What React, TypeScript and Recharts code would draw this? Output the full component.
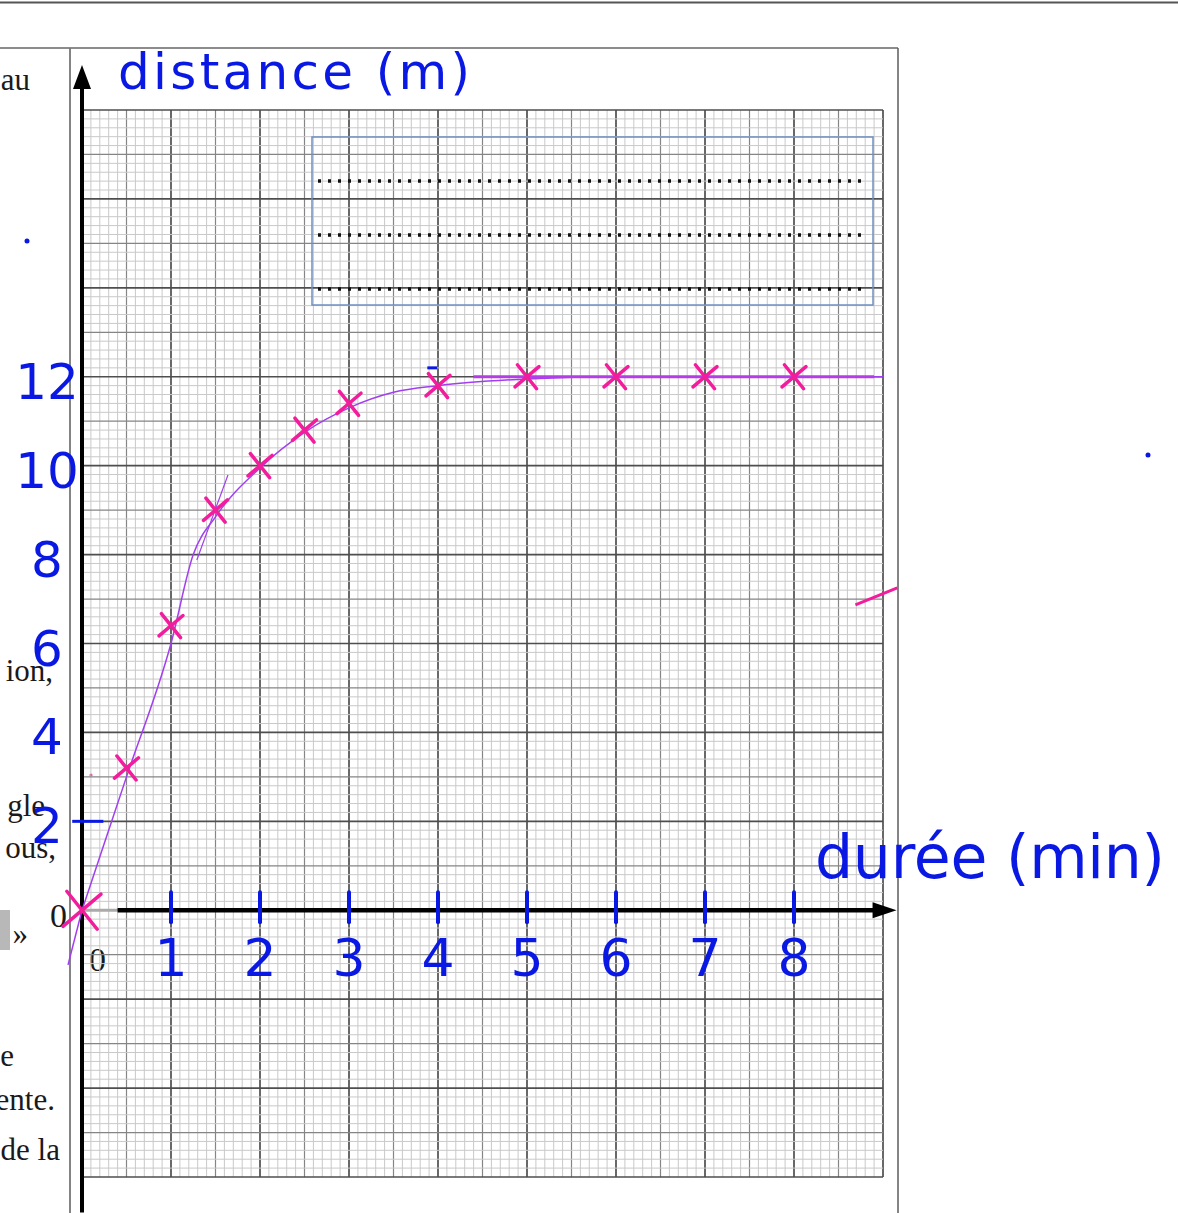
import React from 'react';
import { ComposedChart, XAxis, YAxis, Line, Scatter, ReferenceLine, ReferenceDot } from 'recharts';

// measured points (time in min, distance in m)
const timeMin = [0, 0.5, 1, 1.5, 2, 2.5, 3, 4, 5, 6, 7, 8];
const distanceM = [0, 3.2, 6.4, 9.0, 10.0, 10.8, 11.4, 11.8, 12.0, 12.0, 12.0, 12.0];

// hand-drawn fitted curve
const curveTime = [0, 0.5, 1, 1.25, 1.5, 2, 2.5, 3, 3.5, 4, 5, 6, 9];
const curveDist = [0, 3.0, 6.0, 8.0, 8.85, 9.95, 10.75, 11.3, 11.65, 11.8, 11.95, 12, 12];

// thick plateau stroke
const plateauTime = [4.4, 8.9];
const plateauDist = [12, 12];

// handwritten tick labels
const xTickValues = [1, 2, 3, 4, 5, 6, 7, 8];
const xTickLabels = ['1', '2', '3', '4', '5', '6', '7', '8'];
const yTickValues = [2, 4, 6, 8, 10, 12];
const yTickLabels = ['2', '4', '6', '8', '10', '12'];

const X_MIN = 0, X_MAX = 9, Y_MIN = -6, Y_MAX = 18;

const W = 1178, H = 1213;
const BLUE = '#0a18e4';
const PINK = '#f21c9c';
const PURPLE = '#a23ef0';
const HAND = '"DejaVu Sans", sans-serif';
const SERIF = '"Liberation Serif", "Times New Roman", serif';

const pointData = timeMin.map((t, i) => ({ x: t, y: distanceM[i] }));
const curveData = curveTime.map((t, i) => ({ x: t, y: curveDist[i] }));
const plateauData = plateauTime.map((t, i) => ({ x: t, y: plateauDist[i] }));
const xTickData = xTickValues.map((v, i) => ({ x: v, y: 0, label: xTickLabels[i] }));
const yTickData = yTickValues.map((v, i) => ({ x: 0, y: v, label: yTickLabels[i] }));

// graph paper lines (1 mm minor, 5 mm medium, 1 cm major)
const xGrid = Array.from({ length: 91 }, (_, i) => ({ v: X_MIN + i / 10, k: i % 10 === 0 ? 2 : i % 5 === 0 ? 1 : 0 }));
const yGrid = Array.from({ length: 121 }, (_, i) => ({ v: Y_MIN + i * 0.2, k: i % 10 === 0 ? 2 : i % 5 === 0 ? 1 : 0 }));
const gridStyle = [
  { stroke: '#c9c9c9', w: 1 },
  { stroke: '#858585', w: 1.2 },
  { stroke: '#4e4e4e', w: 1.7 },
];

const Cross = (p: any) => {
  const { cx, cy, payload } = p;
  const r = payload && payload.x === 0 ? 19 : 12;
  return (
    <g stroke={PINK} strokeWidth={3.5} strokeLinecap="round">
      <line x1={cx - r} y1={cy + r * 0.85} x2={cx + r} y2={cy - r * 0.85} />
      <line x1={cx - r * 0.8} y1={cy - r} x2={cx + r * 0.8} y2={cy + r} />
    </g>
  );
};

const XTick = (p: any) => {
  const { cx, cy, payload } = p;
  return (
    <g>
      <line x1={cx} y1={cy - 18} x2={cx} y2={cy + 12} stroke={BLUE} strokeWidth={4} strokeLinecap="round" />
      <text x={cx} y={cy + 66} textAnchor="middle" fill={BLUE} fontSize={52} fontFamily={HAND}>
        {payload.label}
      </text>
    </g>
  );
};

const YTick = (p: any) => {
  const { cx, cy, payload } = p;
  return (
    <text x={cx - 35} y={cy + 22} textAnchor="middle" fill={BLUE} fontSize={50} fontFamily={HAND}>
      {payload.label}
    </text>
  );
};

const UpArrow = (p: any) => {
  const { cx, cy } = p;
  return <polygon points={`${cx},${cy - 45} ${cx - 9},${cy - 21} ${cx + 9},${cy - 21}`} fill="#000" />;
};
const RightArrow = (p: any) => {
  const { cx, cy } = p;
  return <polygon points={`${cx + 18},${cy} ${cx - 6},${cy - 8} ${cx - 6},${cy + 8}`} fill="#000" />;
};
const YTitle = (p: any) => {
  const { cx, cy } = p;
  return (
    <text x={cx + 36} y={cy - 21} fill={BLUE} fontSize={50} fontFamily={HAND} textLength={352} lengthAdjust="spacing">
      distance (m)
    </text>
  );
};
const XTitle = (p: any) => {
  const { cx, cy } = p;
  return (
    <text x={cx - 68} y={cy - 32} fill={BLUE} fontSize={60} fontFamily={HAND} textLength={350} lengthAdjust="spacing">
      durée (min)
    </text>
  );
};

const pageText = [
  { t: 'au', x: 30, y: 90 },
  { t: 'ion,', x: 53, y: 681 },
  { t: 'gle', x: 45, y: 816 },
  { t: 'ous,', x: 56, y: 858 },
  { t: '\u00bb', x: 28, y: 944 },
  { t: 'e', x: 14, y: 1066 },
  { t: 'ente.', x: 55, y: 1110 },
  { t: 'de la', x: 60, y: 1160 },
];

export default function App() {
  return (
    <div style={{ position: 'absolute', left: 0, top: 0, width: W, height: H, background: '#fff', overflow: 'hidden' }}>
      {/* page background (worksheet) */}
      <svg width={W} height={H} style={{ position: 'absolute', left: 0, top: 0 }}>
        <line x1={0} y1={2.5} x2={W} y2={2.5} stroke="#555" strokeWidth={2} />
        <line x1={0} y1={48} x2={898} y2={48} stroke="#666" strokeWidth={1.6} />
        <line x1={70} y1={48} x2={70} y2={H} stroke="#777" strokeWidth={1.8} />
        <line x1={898} y1={48} x2={898} y2={H} stroke="#666" strokeWidth={1.6} />
        {pageText.map((d) => (
          <text key={d.t} x={d.x} y={d.y} textAnchor="end" fontSize={31} fontFamily={SERIF} fill="#1a1a1a">
            {d.t}
          </text>
        ))}
        <rect x={0} y={910} width={10} height={40} fill="#b8b8b8" />
        <text x={67} y={927} textAnchor="end" fontSize={34} fontFamily={SERIF} fill="#1a1a1a">0</text>
        <text x={106} y={971} textAnchor="end" fontSize={34} fontFamily={SERIF} fill="#1a1a1a">0</text>
        <circle cx={27} cy={241} r={2.5} fill={BLUE} />
        <circle cx={1148} cy={455} r={2.5} fill={BLUE} />
        <circle cx={91} cy={775} r={1.5} fill={PINK} />
      </svg>

      <div style={{ position: 'absolute', left: 0, top: 0 }}>
        <ComposedChart width={W} height={H} margin={{ top: 110, right: 295, bottom: 36, left: 82 }}>
          <XAxis type="number" dataKey="x" domain={[X_MIN, X_MAX]} hide />
          <YAxis type="number" dataKey="y" domain={[Y_MIN, Y_MAX]} hide />

          {[0, 1, 2].map((k) =>
            xGrid
              .filter((g) => g.k === k)
              .map((g) => (
                <ReferenceLine key={`vx${k}-${g.v}`} x={g.v} stroke={gridStyle[k].stroke} strokeWidth={gridStyle[k].w} ifOverflow="visible" />
              ))
          )}
          {[0, 1, 2].map((k) =>
            yGrid
              .filter((g) => g.k === k)
              .map((g) => (
                <ReferenceLine key={`hy${k}-${g.v}`} y={g.v} stroke={gridStyle[k].stroke} strokeWidth={gridStyle[k].w} ifOverflow="visible" />
              ))
          )}

          {/* axes */}
          <ReferenceLine segment={[{ x: 0, y: -6.8 }, { x: 0, y: 18.5 }]} stroke="#000" strokeWidth={4} ifOverflow="visible" />
          <ReferenceLine segment={[{ x: 0, y: 0 }, { x: 0.4, y: 0 }]} stroke="#aaa" strokeWidth={3} ifOverflow="visible" />
          <ReferenceLine segment={[{ x: 0.4, y: 0 }, { x: 8.95, y: 0 }]} stroke="#000" strokeWidth={4.5} ifOverflow="visible" />
          <ReferenceDot x={0} y={Y_MAX} r={0} shape={UpArrow} ifOverflow="visible" />
          <ReferenceDot x={8.95} y={0} r={0} shape={RightArrow} ifOverflow="visible" />
          <ReferenceDot x={0} y={Y_MAX} r={0} shape={YTitle} ifOverflow="visible" />
          <ReferenceDot x={X_MAX} y={0} r={0} shape={XTitle} ifOverflow="visible" />

          {/* handwritten extras */}
          <ReferenceLine segment={[{ x: -0.11, y: 2 }, { x: 0.24, y: 2 }]} stroke={BLUE} strokeWidth={3} ifOverflow="visible" />
          <ReferenceLine segment={[{ x: 3.88, y: 12.2 }, { x: 3.99, y: 12.2 }]} stroke={BLUE} strokeWidth={3} ifOverflow="visible" />
          <ReferenceLine segment={[{ x: 8.69, y: 6.87 }, { x: 9.16, y: 7.25 }]} stroke={PINK} strokeWidth={3} ifOverflow="visible" />
          <ReferenceLine segment={[{ x: 1.29, y: 7.88 }, { x: 1.64, y: 9.79 }]} stroke={PURPLE} strokeWidth={1.2} ifOverflow="visible" />
          <ReferenceLine segment={[{ x: -0.157, y: -1.23 }, { x: 0, y: 0 }]} stroke={PURPLE} strokeWidth={1.5} ifOverflow="visible" />

          <Line data={curveData} dataKey="y" type="monotone" stroke={PURPLE} strokeWidth={1.5} dot={false} isAnimationActive={false} />
          <Line data={plateauData} dataKey="y" type="linear" stroke="#b43ee6" strokeWidth={3} dot={false} isAnimationActive={false} />

          <Scatter data={xTickData} shape={XTick} isAnimationActive={false} />
          <Scatter data={yTickData} shape={YTick} isAnimationActive={false} />
          <Scatter data={pointData} shape={Cross} isAnimationActive={false} />
        </ComposedChart>
      </div>

      {/* answer box on top of the grid */}
      <svg width={W} height={H} style={{ position: 'absolute', left: 0, top: 0, pointerEvents: 'none' }}>
        <rect x={312} y={137} width={561} height={168} fill="none" stroke="#6f8fc2" strokeWidth={1.5} />
        {[181, 235, 289].map((y) => (
          <line key={y} x1={318} y1={y} x2={864} y2={y} stroke="#111" strokeWidth={3.5} strokeDasharray="3 7" />
        ))}
      </svg>
    </div>
  );
}
